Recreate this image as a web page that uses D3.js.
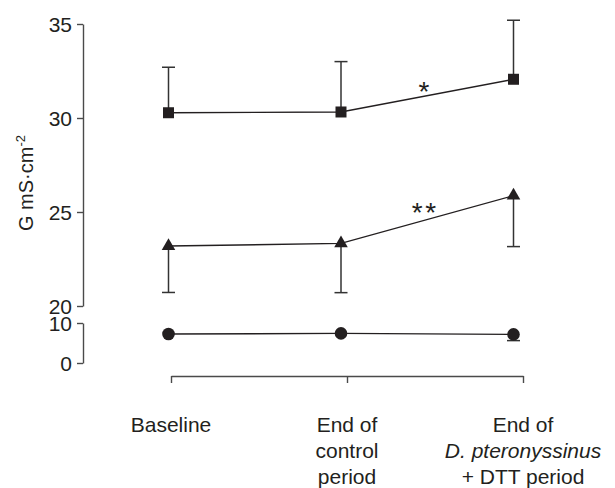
<!DOCTYPE html>
<html>
<head>
<meta charset="utf-8">
<script src="https://cdn.jsdelivr.net/npm/d3@7"></script>
<style>
 body { margin: 0; background: #fff; }
 text { font-family: "Liberation Sans", Arial, sans-serif; fill: #231f20; }
 .axis path, .axis line { stroke: #4a4a4a; stroke-width: 1.4; }
</style>
</head>
<body>
<div id="chart"></div>
<script>
// data
var categories = ["Baseline", "End of control period", "End of D. pteronyssinus + DTT period"];
var squareValues = [30.28, 30.32, 32.06];
var squareUpper = [32.7, 33.0, 35.2];
var triangleValues = [23.19, 23.33, 25.87];
var triangleLower = [20.72, 20.71, 23.16];
var circleValues = [7.25, 7.4, 7.15];
var circleLower = [null, null, 5.6];
var upperTicks = [20, 25, 30, 35];
var lowerTicks = [0, 10];
var annotations = [
 { between: [1, 2], value: 31.75, text: "*" },
 { between: [1, 2], value: 25.3, text: "**" }
];

var width = 615, height = 488;

var svg = d3.select("#chart").append("svg")
 .attr("width", width)
 .attr("height", height);

// broken y axis: two scales
var yUp = d3.scaleLinear().domain([20, 35]).range([306, 24]);
var yLow = d3.scaleLinear().domain([0, 10]).range([363, 323]);

// x: points and axis ticks are slightly offset in the original
var x = d3.scalePoint().domain(categories).range([168.5, 513.5]);
var xAxisScale = d3.scalePoint().domain(categories).range([171, 523]);

var axisX = 83;

svg.append("g")
 .attr("class", "axis")
 .attr("transform", "translate(" + axisX + ",0)")
 .call(d3.axisLeft(yUp).tickValues(upperTicks).tickSize(6).tickSizeOuter(0).tickPadding(5))
 .call(g => g.selectAll("text").attr("font-size", 21).attr("font-family", null).attr("fill", "#231f20"));

svg.append("g")
 .attr("class", "axis")
 .attr("transform", "translate(" + axisX + ",0)")
 .call(d3.axisLeft(yLow).tickValues(lowerTicks).tickSize(6).tickSizeOuter(0).tickPadding(5))
 .call(g => g.selectAll("text").attr("font-size", 21).attr("font-family", null).attr("fill", "#231f20"));

svg.selectAll(".axis text").attr("dy", "0.36em");

// x axis
svg.append("g")
 .attr("class", "axis")
 .attr("transform", "translate(0,376)")
 .call(d3.axisBottom(xAxisScale).tickSize(7).tickSizeOuter(0).tickFormat(""));

// category labels
var labelLines = [
 [{ t: "Baseline" }],
 [{ t: "End of" }, { t: "control" }, { t: "period" }],
 [{ t: "End of" }, { t: "D. pteronyssinus", italic: true }, { t: "+ DTT period" }]
];
categories.forEach(function(c, i) {
 var txt = svg.append("text")
   .attr("text-anchor", "middle")
   .attr("font-size", 21)
   .attr("x", xAxisScale(c))
   .attr("y", 432);
 labelLines[i].forEach(function(l, j) {
   txt.append("tspan")
     .attr("x", xAxisScale(c))
     .attr("dy", j === 0 ? 0 : 26)
     .attr("font-style", l.italic ? "italic" : null)
     .text(l.t);
 });
});

// y label
var yl = svg.append("text")
 .attr("transform", "translate(33,183) rotate(-90)")
 .attr("text-anchor", "middle")
 .attr("font-size", 20);
yl.append("tspan").text("G mS\u00b7cm");
yl.append("tspan").attr("font-size", 13).attr("dy", -8).text("-2");

var lineColor = "#231f20";

function drawSeries(values, yScale, bounds, symbol, size) {
 var pts = values.map(function(v, i) { return { c: categories[i], v: v, b: bounds[i] }; });

 // error bars
 var eb = svg.append("g").attr("stroke", "#333").attr("stroke-width", 1.5);
 pts.filter(d => d.b !== null).forEach(function(d) {
   var cx = x(d.c);
   eb.append("line").attr("x1", cx).attr("x2", cx).attr("y1", yScale(d.v)).attr("y2", yScale(d.b));
   eb.append("line").attr("x1", cx - 6.5).attr("x2", cx + 6.5).attr("y1", yScale(d.b)).attr("y2", yScale(d.b));
 });

 svg.append("path")
   .datum(pts)
   .attr("fill", "none")
   .attr("stroke", lineColor)
   .attr("stroke-width", 1.4)
   .attr("d", d3.line().x(d => x(d.c)).y(d => yScale(d.v)));

 svg.selectAll(null)
   .data(pts)
   .enter()
   .append("path")
   .attr("transform", d => "translate(" + x(d.c) + "," + yScale(d.v) + ")")
   .attr("d", d3.symbol().type(symbol).size(size))
   .attr("fill", lineColor);
}

drawSeries(squareValues, yUp, squareUpper, d3.symbolSquare, 121);
drawSeries(triangleValues, yUp, triangleLower, d3.symbolTriangle, 80);
drawSeries(circleValues, yLow, circleLower, d3.symbolCircle, 125);

// significance marks
annotations.forEach(function(a) {
 var mx = (x(categories[a.between[0]]) + x(categories[a.between[1]])) / 2;
 svg.append("text")
   .attr("x", mx - 2)
   .attr("y", yUp(a.value))
   .attr("dy", "0.57em")
   .attr("text-anchor", "middle")
   .attr("font-family", "DejaVu Sans")
   .attr("font-size", 28)
   .attr("letter-spacing", 2.5)
   .attr("fill", "#444")
   .text(a.text);
});
</script>
</body>
</html>
